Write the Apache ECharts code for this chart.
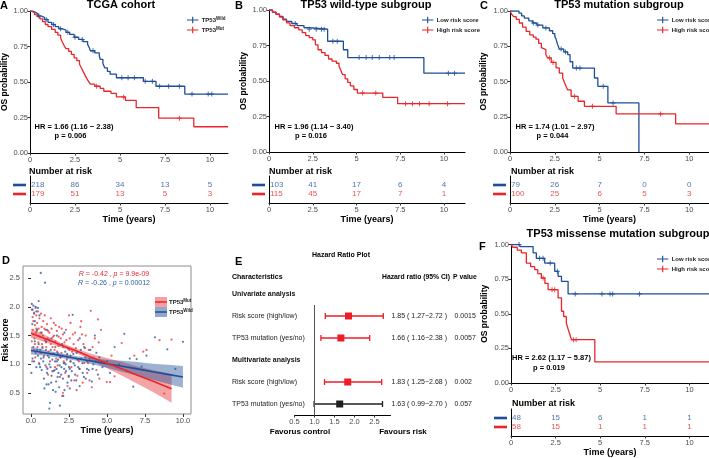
<!DOCTYPE html>
<html>
<head>
<meta charset="utf-8">
<script src="https://cdn.jsdelivr.net/npm/echarts@6/dist/echarts.min.js"></script>
<style>
	html, body { margin: 0; padding: 0; background: #fff; }
	#chart { width: 709px; height: 458px; }
</style>
</head>
<body>
<div id="chart"></div>
<script>
const FONT = '"Liberation Sans", Arial, Helvetica, sans-serif';
const BLUE = '#1f4e9a';
const RED = '#e8262b';
const DARK = '#231f20';
const GREY = '#4d4d4d';

const timeTicks = [0, 2.5, 5, 7.5, 10];

// ---- A: TCGA cohort (KM steps: [time, survival after event]) ----
const tcgaWild = [[0,1],[0.15,0.99],[0.3,0.98],[0.45,0.965],[0.6,0.955],[0.8,0.94],[1.0,0.92],[1.2,0.905],[1.4,0.89],[1.6,0.875],[1.8,0.865],[2.0,0.85],[2.2,0.835],[2.45,0.815],[2.7,0.8],[2.95,0.785],[3.2,0.765],[3.3,0.74],[3.35,0.72],[3.6,0.705],[3.85,0.685],[3.9,0.66],[4.05,0.63],[4.15,0.6],[4.3,0.575],[4.45,0.555],[4.8,0.53],[6.3,0.505],[7.0,0.47],[8.6,0.415],[11,0.415]];
const tcgaMut = [[0,1],[0.1,0.99],[0.25,0.975],[0.4,0.96],[0.55,0.945],[0.7,0.925],[0.85,0.905],[1.0,0.89],[1.2,0.87],[1.4,0.85],[1.55,0.83],[1.7,0.81],[1.8,0.78],[1.9,0.755],[2.0,0.735],[2.15,0.715],[2.3,0.695],[2.45,0.67],[2.6,0.65],[2.75,0.625],[2.85,0.6],[2.95,0.575],[3.05,0.55],[3.15,0.525],[3.25,0.505],[3.35,0.485],[3.6,0.47],[3.9,0.455],[4.1,0.435],[4.5,0.42],[4.8,0.395],[5.3,0.37],[5.9,0.32],[7.15,0.245],[9.1,0.185],[11,0.185]];
const tcgaWildCensor = [0.5,0.9,1.3,1.7,2.1,2.5,2.9,3.5,5.1,5.45,5.8,6.4,6.8,7.2,7.7,8.3,9.0,9.9,10.1];
const tcgaMutCensor = [3.7,5.2,8.3];
const tcgaRiskWild = [218, 86, 34, 13, 5];
const tcgaRiskMut = [179, 51, 13, 5, 3];

// ---- B: TP53 wild-type subgroup ----
const wtLow = [[0,1],[0.2,0.985],[0.4,0.97],[0.6,0.955],[0.8,0.935],[1.0,0.92],[1.3,0.905],[1.6,0.89],[2.0,0.875],[2.3,0.865],[3.35,0.78],[4.25,0.72],[4.5,0.665],[8.85,0.555],[11.2,0.555]];
const wtHigh = [[0,1],[0.2,0.985],[0.4,0.97],[0.6,0.95],[0.8,0.93],[1.0,0.91],[1.2,0.89],[1.45,0.875],[1.7,0.86],[1.9,0.84],[2.1,0.82],[2.3,0.805],[2.5,0.79],[2.65,0.755],[2.8,0.72],[3.0,0.7],[3.2,0.68],[3.4,0.655],[3.6,0.64],[3.85,0.625],[4.0,0.605],[4.1,0.575],[4.2,0.545],[4.35,0.515],[4.5,0.49],[4.65,0.465],[4.85,0.44],[5.05,0.415],[6.5,0.385],[7.35,0.34],[11.2,0.34]];
const wtLowCensor = [1.5,2.3,2.7,3.0,3.15,3.65,3.9,5.15,5.55,5.9,6.3,6.9,7.15,10.25,10.6];
const wtHighCensor = [5.35,6.1,7.8,8.2,8.6,9.15,10.2];
const wtRiskLow = [103, 41, 17, 6, 4];
const wtRiskHigh = [115, 45, 17, 7, 1];

// ---- C: TP53 mutation subgroup ----
const mutLow = [[0,1],[0.5,0.985],[0.65,0.965],[0.8,0.95],[1.05,0.93],[1.27,0.915],[1.5,0.9],[1.83,0.88],[2.2,0.86],[2.38,0.84],[2.5,0.82],[2.57,0.8],[2.65,0.765],[2.75,0.73],[3.0,0.71],[3.22,0.69],[3.35,0.64],[3.5,0.595],[4.71,0.525],[4.9,0.466],[5.46,0.348],[7.19,0]];
const mutHigh = [[0,1],[0.1,0.975],[0.2,0.96],[0.35,0.94],[0.52,0.915],[0.7,0.885],[0.9,0.856],[1.1,0.83],[1.3,0.815],[1.45,0.8],[1.6,0.77],[1.75,0.74],[1.83,0.726],[2.0,0.69],[2.1,0.667],[2.3,0.635],[2.57,0.596],[2.75,0.56],[2.94,0.525],[3.05,0.49],[3.15,0.46],[3.22,0.44],[3.41,0.395],[3.8,0.36],[4.15,0.324],[5.92,0.27],[9.24,0.2],[11.1,0.2]];
const mutLowCensor = [1.3,1.55,2.0,2.85,3.1,3.7,3.9,5.2,5.75];
const mutHighCensor = [2.2,2.4,3.6,4.6,8.4];
const mutRiskLow = [79, 26, 7, 0, 0];
const mutRiskHigh = [100, 25, 6, 5, 3];

// ---- F: TP53 missense mutation subgroup ----
const misLow = [[0,1],[0.5,0.985],[1.24,0.94],[1.42,0.9],[1.89,0.866],[2.45,0.806],[2.64,0.77],[2.83,0.734],[3.2,0.643],[11.1,0.643]];
const misHigh = [[0,1],[0.11,0.98],[0.35,0.96],[0.58,0.94],[0.86,0.866],[1.1,0.84],[1.33,0.818],[1.5,0.79],[1.7,0.758],[1.9,0.72],[2.08,0.674],[2.64,0.614],[2.83,0.518],[2.95,0.48],[3.1,0.433],[3.2,0.39],[3.3,0.35],[3.39,0.313],[4.7,0.152],[11.1,0.152]];
const misLowCensor = [0.45,1.6,1.8,2.2,2.6,3.6,5.1,5.55,5.7,7.2];
const misHighCensor = [1.8,2.3,2.45,3.5,3.65];
const misRiskLow = [48, 15, 6, 1, 1];
const misRiskHigh = [58, 15, 1, 1, 1];

const hrTextA = ['HR = 1.66 (1.16 − 2.38)', 'p = 0.006'];
const hrTextB = ['HR = 1.96 (1.14 − 3.40)', 'p = 0.016'];
const hrTextC = ['HR = 1.74 (1.01 − 2.97)', 'p = 0.044'];
const hrTextF = ['HR = 2.62 (1.17 − 5.87)', 'p = 0.019'];

// ---- D: risk score vs time ----
const scoreMut = [[0.05,1.95],[0.1,1.82],[0.12,1.6],[0.15,1.75],[0.2,1.9],[0.22,1.45],[0.25,1.68],[0.3,1.98],[0.32,1.55],[0.35,1.85],[0.4,1.72],[0.42,1.3],[0.45,1.92],[0.5,1.62],[0.55,1.8],[0.58,1.48],[0.6,1.2],[0.05,1.4],[0.08,1.05],[0.18,1.25],[0.28,1.12],[0.38,1.58],[0.48,1.38],[0.52,1.02],
	[0.65,1.88],[0.7,1.65],[0.72,1.35],[0.78,1.5],[0.8,1.75],[0.85,1.15],[0.9,1.42],[0.95,1.6],[1.0,1.3],[1.02,0.95],[1.05,1.7],[1.1,1.45],[1.15,1.22],[1.2,1.55],[1.25,1.05],[1.3,1.35],[1.35,1.62],[1.4,0.88],[1.45,1.48],
	[1.5,1.72],[1.55,1.25],[1.6,1.4],[1.65,1.1],[1.7,1.58],[1.75,0.98],[1.8,1.32],[1.85,1.65],[1.9,0.78],[1.95,1.45],[2.0,1.2],[2.05,0.45],[2.1,1.52],[2.15,1.05],[2.2,1.38],[2.25,0.85],[2.3,1.6],[2.35,1.15],[2.4,0.62],[2.45,1.28],[2.1,0.5],
	[2.55,1.45],[2.6,1.72],[2.65,0.95],[2.7,1.22],[2.8,1.35],[2.85,0.72],[2.9,1.55],[3.0,1.1],[3.05,0.8],[3.1,1.42],[3.2,0.92],[3.25,1.65],[3.3,1.2],[3.4,0.68],[3.45,1.35],[3.5,1.02],[3.6,1.5],[3.7,0.85],[3.8,1.25],[3.93,1.93],[4.0,0.6],[4.1,1.12],[4.2,1.45],[4.3,0.9],[4.45,1.38],[4.5,0.75],[4.6,1.6],[4.4,1.78],
	[4.8,1.05],[4.98,0.69],[5.2,0.69],[5.5,0.79],[5.7,0.95],[5.97,1.37],[6.3,0.88],[6.8,1.15],[7.39,1.22],[7.6,1.25],[8.46,1.42],[8.77,0.49],[9.25,1.43],[5.3,1.15],
	[0.15,1.52],[0.25,1.35],[0.35,1.62],[0.45,1.5],[0.62,1.55],[0.75,1.28],[0.88,1.62],[0.98,1.38],[1.12,1.58],[1.22,1.42],[1.28,1.18],[1.42,1.3],[1.52,1.5],[1.62,1.68],[1.72,1.22],[1.82,1.48],[1.92,1.12],[2.02,1.62],[2.12,1.3],[2.22,1.02],
	[2.32,1.42],[2.42,1.12],[2.52,1.25],[2.62,1.05],[2.75,1.52],[2.95,1.28],[3.15,1.05],[3.35,1.52],[3.55,1.28],[3.75,1.02],[3.85,0.72],[4.05,1.3],[1.58,0.95],[1.12,0.82],[2.48,0.78],[3.0,0.55],[1.3,1.8],[0.9,1.85],[2.5,1.85],[3.3,1.75]];
const scoreWild = [[0.05,2.05],[0.1,1.95],[0.15,2.02],[0.2,1.88],[0.3,2.0],[0.35,1.92],[0.45,1.98],[0.5,2.1],[0.08,1.7],[0.25,1.75],[0.4,1.6],[0.55,1.85],
	[0.02,0.85],[0.1,1.1],[0.15,1.3],[0.2,1.05],[0.3,1.2],[0.35,0.95],[0.45,1.15],[0.5,1.35],[0.55,1.0],[0.6,1.25],[0.64,2.59],[0.92,2.42],
	[0.65,1.1],[0.7,0.9],[0.75,1.3],[0.8,1.05],[0.85,0.75],[0.9,1.2],[0.95,0.98],[1.0,1.4],[1.05,0.85],[1.1,1.15],[1.15,0.65],[1.2,0.23],[1.25,0.33],[1.2,1.0],[1.3,1.25],[1.35,0.8],[1.4,1.08],[1.45,0.55],[1.5,1.18],[0.7,1.55],[1.05,1.6],[1.35,1.45],
	[1.55,0.9],[1.6,1.3],[1.65,0.7],[1.7,1.05],[1.75,1.2],[1.8,0.85],[1.85,0.6],[1.9,0.28],[1.95,1.12],[2.0,0.95],[2.05,1.35],[2.1,0.75],[2.15,1.02],[2.2,0.55],[2.25,1.22],[2.3,0.88],[2.35,1.08],[2.4,0.68],[2.45,1.28],[1.7,1.5],[2.2,1.55],
	[2.55,0.92],[2.6,1.15],[2.65,0.72],[2.74,1.86],[2.8,1.02],[2.9,0.82],[3.0,1.2],[3.1,0.95],[3.2,0.62],[3.3,1.1],[3.4,0.85],[3.5,1.3],[3.6,0.75],[3.7,1.05],[3.8,0.9],[3.9,1.25],[4.0,0.7],[4.1,1.0],[4.3,1.2],[4.4,0.82],[4.5,1.12],[3.2,1.45],[4.2,1.5],
	[4.7,0.95],[5.0,1.05],[5.2,0.85],[5.5,1.3],[5.8,1.0],[6.14,1.53],[6.5,1.1],[6.73,0.61],[6.95,1.09],[7.28,0.96],[7.6,1.15],[8.16,1.47],[8.97,1.26],[9.5,0.92],[10.0,1.39],
	[0.25,1.4],[0.4,1.25],[0.6,0.95],[0.68,1.2],[0.82,1.12],[0.98,1.25],[1.08,0.92],[1.18,1.12],[1.28,0.95],[1.38,1.18],[1.48,0.88],[1.58,1.05],[1.68,0.92],[1.78,1.08],[1.88,0.98],[1.98,0.82],[2.08,1.15],[2.18,0.92],[2.28,1.0],[2.38,1.18],[2.48,0.8],[2.58,1.05],
	[2.68,0.88],[2.78,1.18],[2.88,0.98],[2.98,0.72],[3.08,1.08],[3.18,0.92],[3.28,1.25],[3.38,1.02],[3.48,0.78],[3.58,1.12],[3.68,0.92],[3.85,1.1],[4.05,0.92],[4.25,1.05],[1.02,0.65],[1.62,0.52],[2.12,0.45],[2.55,0.58],[0.88,0.58],[1.32,0.68],[1.75,0.78],[2.5,0.95]];
const fitMutX = [0, 1, 2, 3, 4, 5, 6, 7, 8, 9.25];
const fitMut = [1.54, 1.44, 1.33, 1.23, 1.12, 1.02, 0.92, 0.81, 0.71, 0.575];
const fitMutLo = [1.46, 1.38, 1.29, 1.19, 1.06, 0.93, 0.80, 0.66, 0.52, 0.33];
const fitMutHi = [1.62, 1.50, 1.37, 1.27, 1.18, 1.11, 1.04, 0.96, 0.90, 0.83];
const fitWildX = [0, 1, 2, 3, 4, 5, 6, 7, 8, 9, 10];
const fitWild = [1.24, 1.195, 1.15, 1.10, 1.055, 1.01, 0.965, 0.92, 0.87, 0.825, 0.78];
const fitWildLo = [1.17, 1.15, 1.11, 1.06, 1.0, 0.94, 0.87, 0.80, 0.73, 0.66, 0.59];
const fitWildHi = [1.31, 1.24, 1.19, 1.14, 1.11, 1.08, 1.06, 1.04, 1.01, 0.99, 0.97];

// ---- E: hazard ratio plot ----
const forestRowLabels = ['Univariate analysis', 'Risk score (high/low)', 'TP53 mutation (yes/no)', 'Multivariate analysis', 'Risk score (high/low)', 'TP53 mutation (yes/no)'];
const forestHeaderRows = [0, 3];
const forestRows = [1, 2, 4, 5];
const forestHR = [1.85, 1.66, 1.83, 1.63];
const forestLow = [1.27, 1.16, 1.25, 0.99];
const forestHigh = [2.72, 2.38, 2.68, 2.70];
const forestP = ['0.0015', '0.0057', '0.002', '0.057'];
const forestTicks = [0.5, 1, 1.5, 2, 2.5];
const FOREST_MAX = 2.9;

function levelAt(steps, t) {
	let s = steps[0][1];
	for (const [x, y] of steps) if (x <= t) s = y;
	return s;
}

const PLUS = 'path://M4,0h2v4h4v2h-4v4h-2v-4h-4v-2h4z';
const LEG_ICON = 'path://M0,3.3H14V4.7H0Z M6.3,0H7.7V8H6.3Z';

function kmSeries(name, steps, censor, color, g) {
	return [{
		name: name, type: 'line', xAxisIndex: g, yAxisIndex: g, step: 'end',
		data: steps, symbol: 'none', color: color,
		lineStyle: { color: color, width: 1.3 }, itemStyle: { color: color }, z: 3
	}, {
		type: 'scatter', xAxisIndex: g, yAxisIndex: g, symbol: PLUS, symbolSize: 5,
		itemStyle: { color: color }, z: 4,
		data: censor.map(t => [t, levelAt(steps, t)])
	}];
}

function riskSeries(top, bottom, g) {
	const row = (vals, y, color) => ({
		type: 'scatter', xAxisIndex: g, yAxisIndex: g, symbolSize: 1,
		itemStyle: { color: 'rgba(0,0,0,0)' },
		label: { show: true, position: 'inside', color: color, fontSize: 8, fontFamily: FONT, formatter: p => p.value[2] },
		data: vals.map((v, i) => i === 0
			? { value: [timeTicks[i], y, v], label: { align: 'left', offset: [1, 0] } }
			: [timeTicks[i], y, v])
	});
	return [row(top, 2, BLUE), row(bottom, 1, RED)];
}

const axisLine = { show: true, onZero: false, lineStyle: { color: '#000', width: 1 } };
const tickLabel = { fontSize: 7.5, color: GREY, fontFamily: FONT };

function kmAxes(g, max, nameGap) {
	return {
		x: {
			type: 'value', gridIndex: g, min: 0, max: max, axisLine: axisLine,
			axisTick: { show: true, length: 2.5, customValues: timeTicks, lineStyle: { color: '#333' } },
			axisLabel: Object.assign({ customValues: timeTicks, margin: 3 }, tickLabel),
			splitLine: { show: false }
		},
		y: {
			type: 'value', gridIndex: g, min: 0, max: 1, interval: 0.25,
			name: 'OS probability', nameLocation: 'middle', nameGap: nameGap,
			nameTextStyle: { fontSize: 8.5, fontWeight: 'bold', color: '#000', fontFamily: FONT },
			axisLine: axisLine,
			axisTick: { show: true, length: 2.5, lineStyle: { color: '#333' } },
			axisLabel: Object.assign({ margin: 2, formatter: v => v.toFixed(2) }, tickLabel),
			splitLine: { show: false }
		}
	};
}

function riskAxes(g, max, nameGap) {
	return {
		x: {
			type: 'value', gridIndex: g, min: 0, max: max, axisLine: axisLine,
			name: 'Time (years)', nameLocation: 'middle', nameGap: nameGap,
			nameTextStyle: { fontSize: 9, fontWeight: 'bold', color: '#000', fontFamily: FONT },
			axisTick: { show: true, length: 2.5, customValues: timeTicks, lineStyle: { color: '#333' } },
			axisLabel: Object.assign({ customValues: timeTicks, margin: 3 }, tickLabel),
			splitLine: { show: false }
		},
		y: {
			type: 'value', gridIndex: g, min: 0, max: 3, axisLine: axisLine,
			axisTick: { show: false },
			axisLabel: {
				customValues: [1, 2], margin: 4, fontSize: 2, lineHeight: 3, hideOverlap: false,
				showMinLabel: true, showMaxLabel: true,
				formatter: v => v === 2 ? '{b|}' : '{r|}',
				rich: {
					b: { width: 13, height: 2.6, lineHeight: 3, fontSize: 2, backgroundColor: BLUE },
					r: { width: 13, height: 2.6, lineHeight: 3, fontSize: 2, backgroundColor: RED }
				}
			},
			splitLine: { show: false }
		}
	};
}

const grids = [
	{ left: 30, top: 11, width: 198, height: 142 },
	{ left: 30, top: 176, width: 198, height: 27 },
	{ left: 269, top: 10, width: 196, height: 142 },
	{ left: 269, top: 176, width: 196, height: 27 },
	{ left: 510, top: 11, width: 199, height: 141 },
	{ left: 510, top: 176, width: 199, height: 27 },
	{ left: 23, top: 266, width: 168, height: 148, show: true, borderColor: '#8c8c8c', borderWidth: 1, backgroundColor: '#fff' },
	{ left: 294.5, top: 283, width: 96, height: 132 },
	{ left: 511, top: 244.5, width: 198, height: 138.5 },
	{ left: 511, top: 409, width: 198, height: 27 }
].map(g => Object.assign({ outerBoundsMode: 'none', containLabel: false }, g));

const axA = kmAxes(0, 11, 21), axAr = riskAxes(1, 11, 10);
const axB = kmAxes(2, 11.2, 18), axBr = riskAxes(3, 11.2, 10);
const axC = kmAxes(4, 11.1, 22), axCr = riskAxes(5, 11.1, 10);
const axF = kmAxes(8, 11.1, 22), axFr = riskAxes(9, 11.1, 11);

const dTicksX = [0, 2.5, 5, 7.5, 10];
const dTicksY = [0.5, 1, 1.5, 2, 2.5];
const axD = {
	x: {
		type: 'value', gridIndex: 6, min: -0.53, max: 10.53,
		name: 'Time (years)', nameLocation: 'middle', nameGap: 12,
		nameTextStyle: { fontSize: 9, fontWeight: 'bold', color: '#000', fontFamily: FONT },
		axisLine: { show: false },
		axisTick: { show: true, length: 3, customValues: dTicksX, lineStyle: { color: '#333' } },
		axisLabel: Object.assign({ customValues: dTicksX, margin: 3, formatter: v => v.toFixed(1) }, tickLabel),
		splitLine: { show: false }
	},
	y: {
		type: 'value', gridIndex: 6, min: 0.135, max: 2.71,
		name: 'Risk score', nameLocation: 'middle', nameGap: 13, nameMoveOverlap: false,
		nameTextStyle: { fontSize: 8.5, fontWeight: 'bold', color: '#000', fontFamily: FONT },
		axisLine: { show: false },
		axisTick: { show: true, length: 3, customValues: dTicksY, lineStyle: { color: '#333' } },
		axisLabel: Object.assign({ customValues: dTicksY, margin: 3, formatter: v => v.toFixed(1) }, tickLabel),
		splitLine: { show: false }
	}
};

const axE = {
	x: {
		type: 'value', gridIndex: 7, min: 0.5, max: FOREST_MAX, axisLine: axisLine,
		axisTick: { show: true, length: 2.5, customValues: forestTicks, lineStyle: { color: '#333' } },
		axisLabel: Object.assign({ customValues: forestTicks, margin: 3, formatter: v => v.toFixed(1) }, tickLabel),
		splitLine: { show: false }
	},
	y: {
		type: 'value', gridIndex: 7, min: -0.5, max: 5.5, inverse: true,
		axisLine: { show: false }, axisTick: { show: false }, splitLine: { show: false },
		axisLabel: {
			customValues: [0, 1, 2, 3, 4, 5], align: 'left', margin: 62.5,
			fontSize: 7, color: '#222', fontFamily: FONT,
			formatter: v => forestHeaderRows.includes(v) ? '{h|' + forestRowLabels[v] + '}' : forestRowLabels[v],
			rich: { h: { fontSize: 7, fontWeight: 'bold', color: '#111', fontFamily: FONT } }
		}
	}
};

function bandSeries(xs, lo, hi, fill) {
	return {
		type: 'custom', xAxisIndex: 6, yAxisIndex: 6, silent: true, data: [[xs[0], lo[0]]],
		renderItem: (params, api) => {
			const up = xs.map((x, i) => api.coord([x, hi[i]]));
			const down = xs.map((x, i) => api.coord([x, lo[i]])).reverse();
			return { type: 'polygon', shape: { points: up.concat(down) }, style: { fill: fill } };
		}
	};
}

function forestItem(params, api) {
	const i = api.value(4);
	const row = api.value(1);
	const c = api.coord([api.value(0), row]);
	const lo = api.coord([api.value(2), row]);
	const hi = api.coord([api.value(3), row]);
	const right = api.coord([FOREST_MAX, row])[0];
	const color = parseFloat(forestP[i]) > 0.05 ? DARK : '#ee1c25';
	const stroke = { stroke: color, lineWidth: 1.3 };
	const label = `${forestHR[i].toFixed(2)} ( ${forestLow[i].toFixed(2)}−${forestHigh[i].toFixed(2)} )`;
	const txt = (x, s) => ({ type: 'text', x: x, y: c[1], style: { text: s, fill: '#222', fontSize: 7, fontFamily: FONT, align: 'left', verticalAlign: 'middle' } });
	return {
		type: 'group', children: [
			{ type: 'line', shape: { x1: lo[0], y1: c[1], x2: hi[0], y2: c[1] }, style: stroke },
			{ type: 'line', shape: { x1: lo[0], y1: c[1] - 3, x2: lo[0], y2: c[1] + 3 }, style: stroke },
			{ type: 'line', shape: { x1: hi[0], y1: c[1] - 3, x2: hi[0], y2: c[1] + 3 }, style: stroke },
			{ type: 'rect', shape: { x: c[0] - 3.5, y: c[1] - 3.5, width: 7, height: 7 }, style: { fill: color } },
			txt(right + 1, label),
			txt(right + 64, forestP[i])
		]
	};
}

function text(x, y, s, opt) {
	return {
		type: 'text', x: x, y: y, silent: true,
		style: Object.assign({ text: s, fill: '#000', fontSize: 9, fontFamily: FONT, fontWeight: 'bold', align: 'left', verticalAlign: 'middle' }, opt || {})
	};
}

const supRich = { s: { fontSize: 4.5, fontWeight: 'bold', fill: '#1a1a1a', verticalAlign: 'top', lineHeight: 5, fontFamily: FONT } };

const graphics = [
	text(0, 6, 'A', { fontSize: 11 }), text(235, 6, 'B', { fontSize: 11 }), text(480, 6, 'C', { fontSize: 11 }),
	text(2, 261, 'D', { fontSize: 11 }), text(235, 262, 'E', { fontSize: 11 }), text(479, 247, 'F', { fontSize: 11 }),
	text(121, 5, 'TCGA cohort', { fontSize: 11, align: 'center' }),
	text(366, 5, 'TP53 wild-type subgroup', { fontSize: 11, align: 'center' }),
	text(619, 5, 'TP53 mutation subgroup', { fontSize: 11, align: 'center' }),
	text(618, 234, 'TP53 missense mutation subgroup', { fontSize: 11, align: 'center' }),
	text(74, 127, hrTextA[0], { fontSize: 7.5, align: 'center' }), text(70.5, 136, hrTextA[1], { fontSize: 7.5, align: 'center' }),
	text(314, 127, hrTextB[0], { fontSize: 7.5, align: 'center' }), text(311, 136, hrTextB[1], { fontSize: 7.5, align: 'center' }),
	text(555, 127, hrTextC[0], { fontSize: 7.5, align: 'center' }), text(552.5, 136, hrTextC[1], { fontSize: 7.5, align: 'center' }),
	text(551.5, 358, hrTextF[0], { fontSize: 7.5, align: 'center' }), text(549, 368, hrTextF[1], { fontSize: 7.5, align: 'center' }),
	text(29, 172, 'Number at risk'), text(269, 172, 'Number at risk'), text(511, 172, 'Number at risk'), text(512, 404, 'Number at risk'),
	// D annotations and legend
	text(114, 274, '{i|R} = -0.42 , {i|p} = 9.9e-09', { fontSize: 7, fontWeight: 'normal', fill: RED, align: 'center',
		rich: { i: { fontStyle: 'italic', fill: RED, fontSize: 7, fontFamily: FONT } } }),
	text(114, 283, '{i|R} = -0.26 , {i|p} = 0.00012', { fontSize: 7, fontWeight: 'normal', fill: '#2f5ea8', align: 'center',
		rich: { i: { fontStyle: 'italic', fill: '#2f5ea8', fontSize: 7, fontFamily: FONT } } }),
	{ type: 'rect', shape: { x: 155, y: 297, width: 12, height: 10 }, style: { fill: 'rgba(232,38,43,0.45)' } },
	{ type: 'line', shape: { x1: 155, y1: 302, x2: 167, y2: 302 }, style: { stroke: RED, lineWidth: 1.5 } },
	{ type: 'rect', shape: { x: 155, y: 307, width: 12, height: 10 }, style: { fill: 'rgba(38,82,150,0.5)' } },
	{ type: 'line', shape: { x1: 155, y1: 312, x2: 167, y2: 312 }, style: { stroke: BLUE, lineWidth: 1.5 } },
	text(169, 302, 'TP53{s|Mut}', { fontSize: 6, lineHeight: 8, fill: '#1a1a1a', rich: supRich }),
	text(169, 312, 'TP53{s|Wild}', { fontSize: 6, lineHeight: 8, fill: '#1a1a1a', rich: supRich }),
	// E headers
	text(341, 255, 'Hazard Ratio Plot', { fontSize: 7, align: 'center' }),
	text(232, 277, 'Characteristics', { fontSize: 7 }),
	text(382, 277, 'Hazard ratio (95% CI)', { fontSize: 6.8 }),
	text(453, 277, 'P value', { fontSize: 6.8 }),
	text(300, 432, 'Favorus control', { fontSize: 8, align: 'center' }),
	text(403, 432, 'Favours risk', { fontSize: 8, align: 'center' })
];

function kmLegend(names, left, top, fmt) {
	return {
		data: names, left: left, top: top, orient: 'vertical', selectedMode: false,
		icon: LEG_ICON, itemWidth: 12, itemHeight: 6.5, itemGap: 2,
		formatter: fmt,
		textStyle: { fontSize: 6, fontWeight: 'bold', color: '#1a1a1a', fontFamily: FONT, lineHeight: 8, padding: [0, 0, 0, -2],
			rich: { s: { fontSize: 4.5, fontWeight: 'bold', color: '#1a1a1a', verticalAlign: 'top', lineHeight: 5, fontFamily: FONT } } }
	};
}

const riskNames = ['Low risk score', 'High risk score'];

const option = {
	animation: false,
	backgroundColor: '#fff',
	textStyle: { fontFamily: FONT },
	grid: grids,
	xAxis: [axA.x, axAr.x, axB.x, axBr.x, axC.x, axCr.x, axD.x, axE.x, axF.x, axFr.x],
	yAxis: [axA.y, axAr.y, axB.y, axBr.y, axC.y, axCr.y, axD.y, axE.y, axF.y, axFr.y],
	legend: [
		kmLegend(['Wild', 'Mut'], 182, 11, n => 'TP53{s|' + n + '}'),
		kmLegend(riskNames, 417, 11),
		kmLegend(riskNames, 652, 11),
		kmLegend(riskNames, 652, 250)
	],
	graphic: { elements: graphics },
	series: [].concat(
		kmSeries('Wild', tcgaWild, tcgaWildCensor, BLUE, 0),
		kmSeries('Mut', tcgaMut, tcgaMutCensor, RED, 0),
		riskSeries(tcgaRiskWild, tcgaRiskMut, 1),
		kmSeries('Low risk score', wtLow, wtLowCensor, BLUE, 2),
		kmSeries('High risk score', wtHigh, wtHighCensor, RED, 2),
		riskSeries(wtRiskLow, wtRiskHigh, 3),
		kmSeries('Low risk score', mutLow, mutLowCensor, BLUE, 4),
		kmSeries('High risk score', mutHigh, mutHighCensor, RED, 4),
		riskSeries(mutRiskLow, mutRiskHigh, 5),
		kmSeries('Low risk score', misLow, misLowCensor, BLUE, 8),
		kmSeries('High risk score', misHigh, misHighCensor, RED, 8),
		riskSeries(misRiskLow, misRiskHigh, 9),
		[
			{ type: 'scatter', xAxisIndex: 6, yAxisIndex: 6, symbolSize: 2.2, itemStyle: { color: '#ee3a3a' }, data: scoreMut },
			{ type: 'scatter', xAxisIndex: 6, yAxisIndex: 6, symbolSize: 2.2, itemStyle: { color: '#2f5ea8' }, data: scoreWild },
			bandSeries(fitMutX, fitMutLo, fitMutHi, 'rgba(232,38,43,0.42)'),
			bandSeries(fitWildX, fitWildLo, fitWildHi, 'rgba(38,82,150,0.45)'),
			{ type: 'line', xAxisIndex: 6, yAxisIndex: 6, symbol: 'none', lineStyle: { color: BLUE, width: 1.6 }, data: fitWildX.map((x, i) => [x, fitWild[i]]) },
			{ type: 'line', xAxisIndex: 6, yAxisIndex: 6, symbol: 'none', lineStyle: { color: RED, width: 1.6 }, data: fitMutX.map((x, i) => [x, fitMut[i]]) },
			{ type: 'line', xAxisIndex: 7, yAxisIndex: 7, symbol: 'none', lineStyle: { color: '#555', width: 1 }, data: [[1, 0.5], [1, 5.5]] },
			{ type: 'custom', xAxisIndex: 7, yAxisIndex: 7, renderItem: forestItem,
				data: forestRows.map((r, i) => [forestHR[i], r, forestLow[i], forestHigh[i], i]) }
		]
	)
};

const chart = echarts.init(document.getElementById('chart'), null, { renderer: 'canvas' });
chart.setOption(option);
</script>
</body>
</html>
